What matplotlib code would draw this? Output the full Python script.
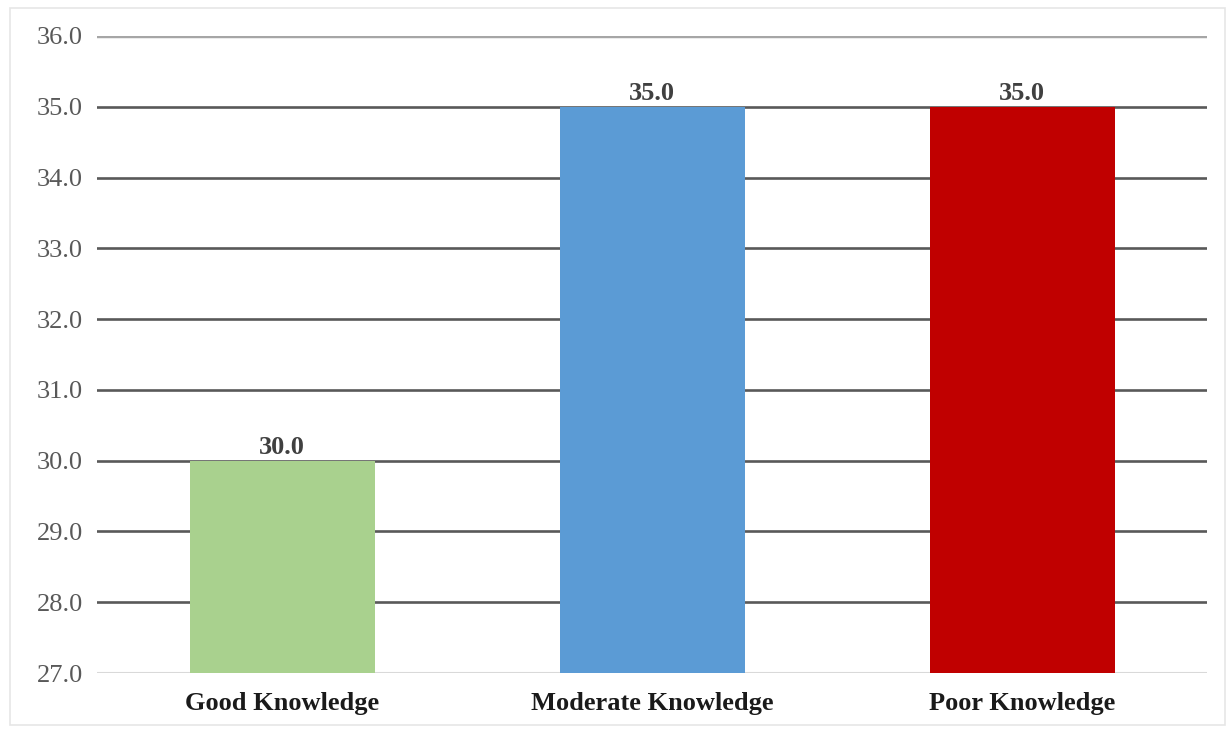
import matplotlib
matplotlib.use("Agg")
import matplotlib.pyplot as plt
import matplotlib.patches as mpatches

categories = ["Good Knowledge", "Moderate Knowledge", "Poor Knowledge"]
values = [30.0, 35.0, 35.0]
colors = ["#A9D18E", "#5B9BD5", "#C00000"]
y_ticks = [27.0, 28.0, 29.0, 30.0, 31.0, 32.0, 33.0, 34.0, 35.0, 36.0]

plt.rcParams["font.family"] = ["Liberation Serif", "DejaVu Serif"]

W, H = 1229, 733
fig = plt.figure(figsize=(W / 100, H / 100), dpi=100)
ax = fig.add_axes([97 / W, 1 - 673 / H, (1207 - 97) / W, (673 - 36) / H])

# light frame around the whole picture
fig.patches.append(mpatches.Rectangle((10 / W, 8 / H), (1225 - 10) / W, (725 - 8) / H,
                                      transform=fig.transFigure, fill=False,
                                      edgecolor="#E6E6E6", linewidth=1.2))

x = range(len(categories))
bars = ax.bar(x, values, width=0.5, color=colors, zorder=3)

ax.set_xlim(-0.5, len(categories) - 0.5)
ax.set_ylim(y_ticks[0], y_ticks[-1])
ax.set_yticks(y_ticks)
ax.set_yticklabels([f"{t:.1f}" for t in y_ticks], fontsize=19, color="#595959")
ax.set_xticks(list(x))
ax.set_xticklabels(categories, fontsize=19, fontweight="bold", color="#1a1a1a")
ax.tick_params(axis="both", length=0)
ax.tick_params(axis="y", pad=10)
ax.tick_params(axis="x", pad=14)

for s in ax.spines.values():
    s.set_visible(False)

ax.yaxis.grid(True, color="#595959", linewidth=1.9, zorder=0)
grid = ax.get_ygridlines()
grid[0].set_color("#D9D9D9")
grid[0].set_linewidth(1.5)
grid[-1].set_color("#A6A6A6")
grid[-1].set_linewidth(3.2)

for bar, v in zip(bars, values):
    ax.annotate(f"{v:.1f}", xy=(bar.get_x() + bar.get_width() / 2, v),
                xytext=(0, 1), textcoords="offset points", ha="center", va="bottom",
                fontsize=19, fontweight="bold", color="#404040")

fig.savefig("out.png", dpi=100)
